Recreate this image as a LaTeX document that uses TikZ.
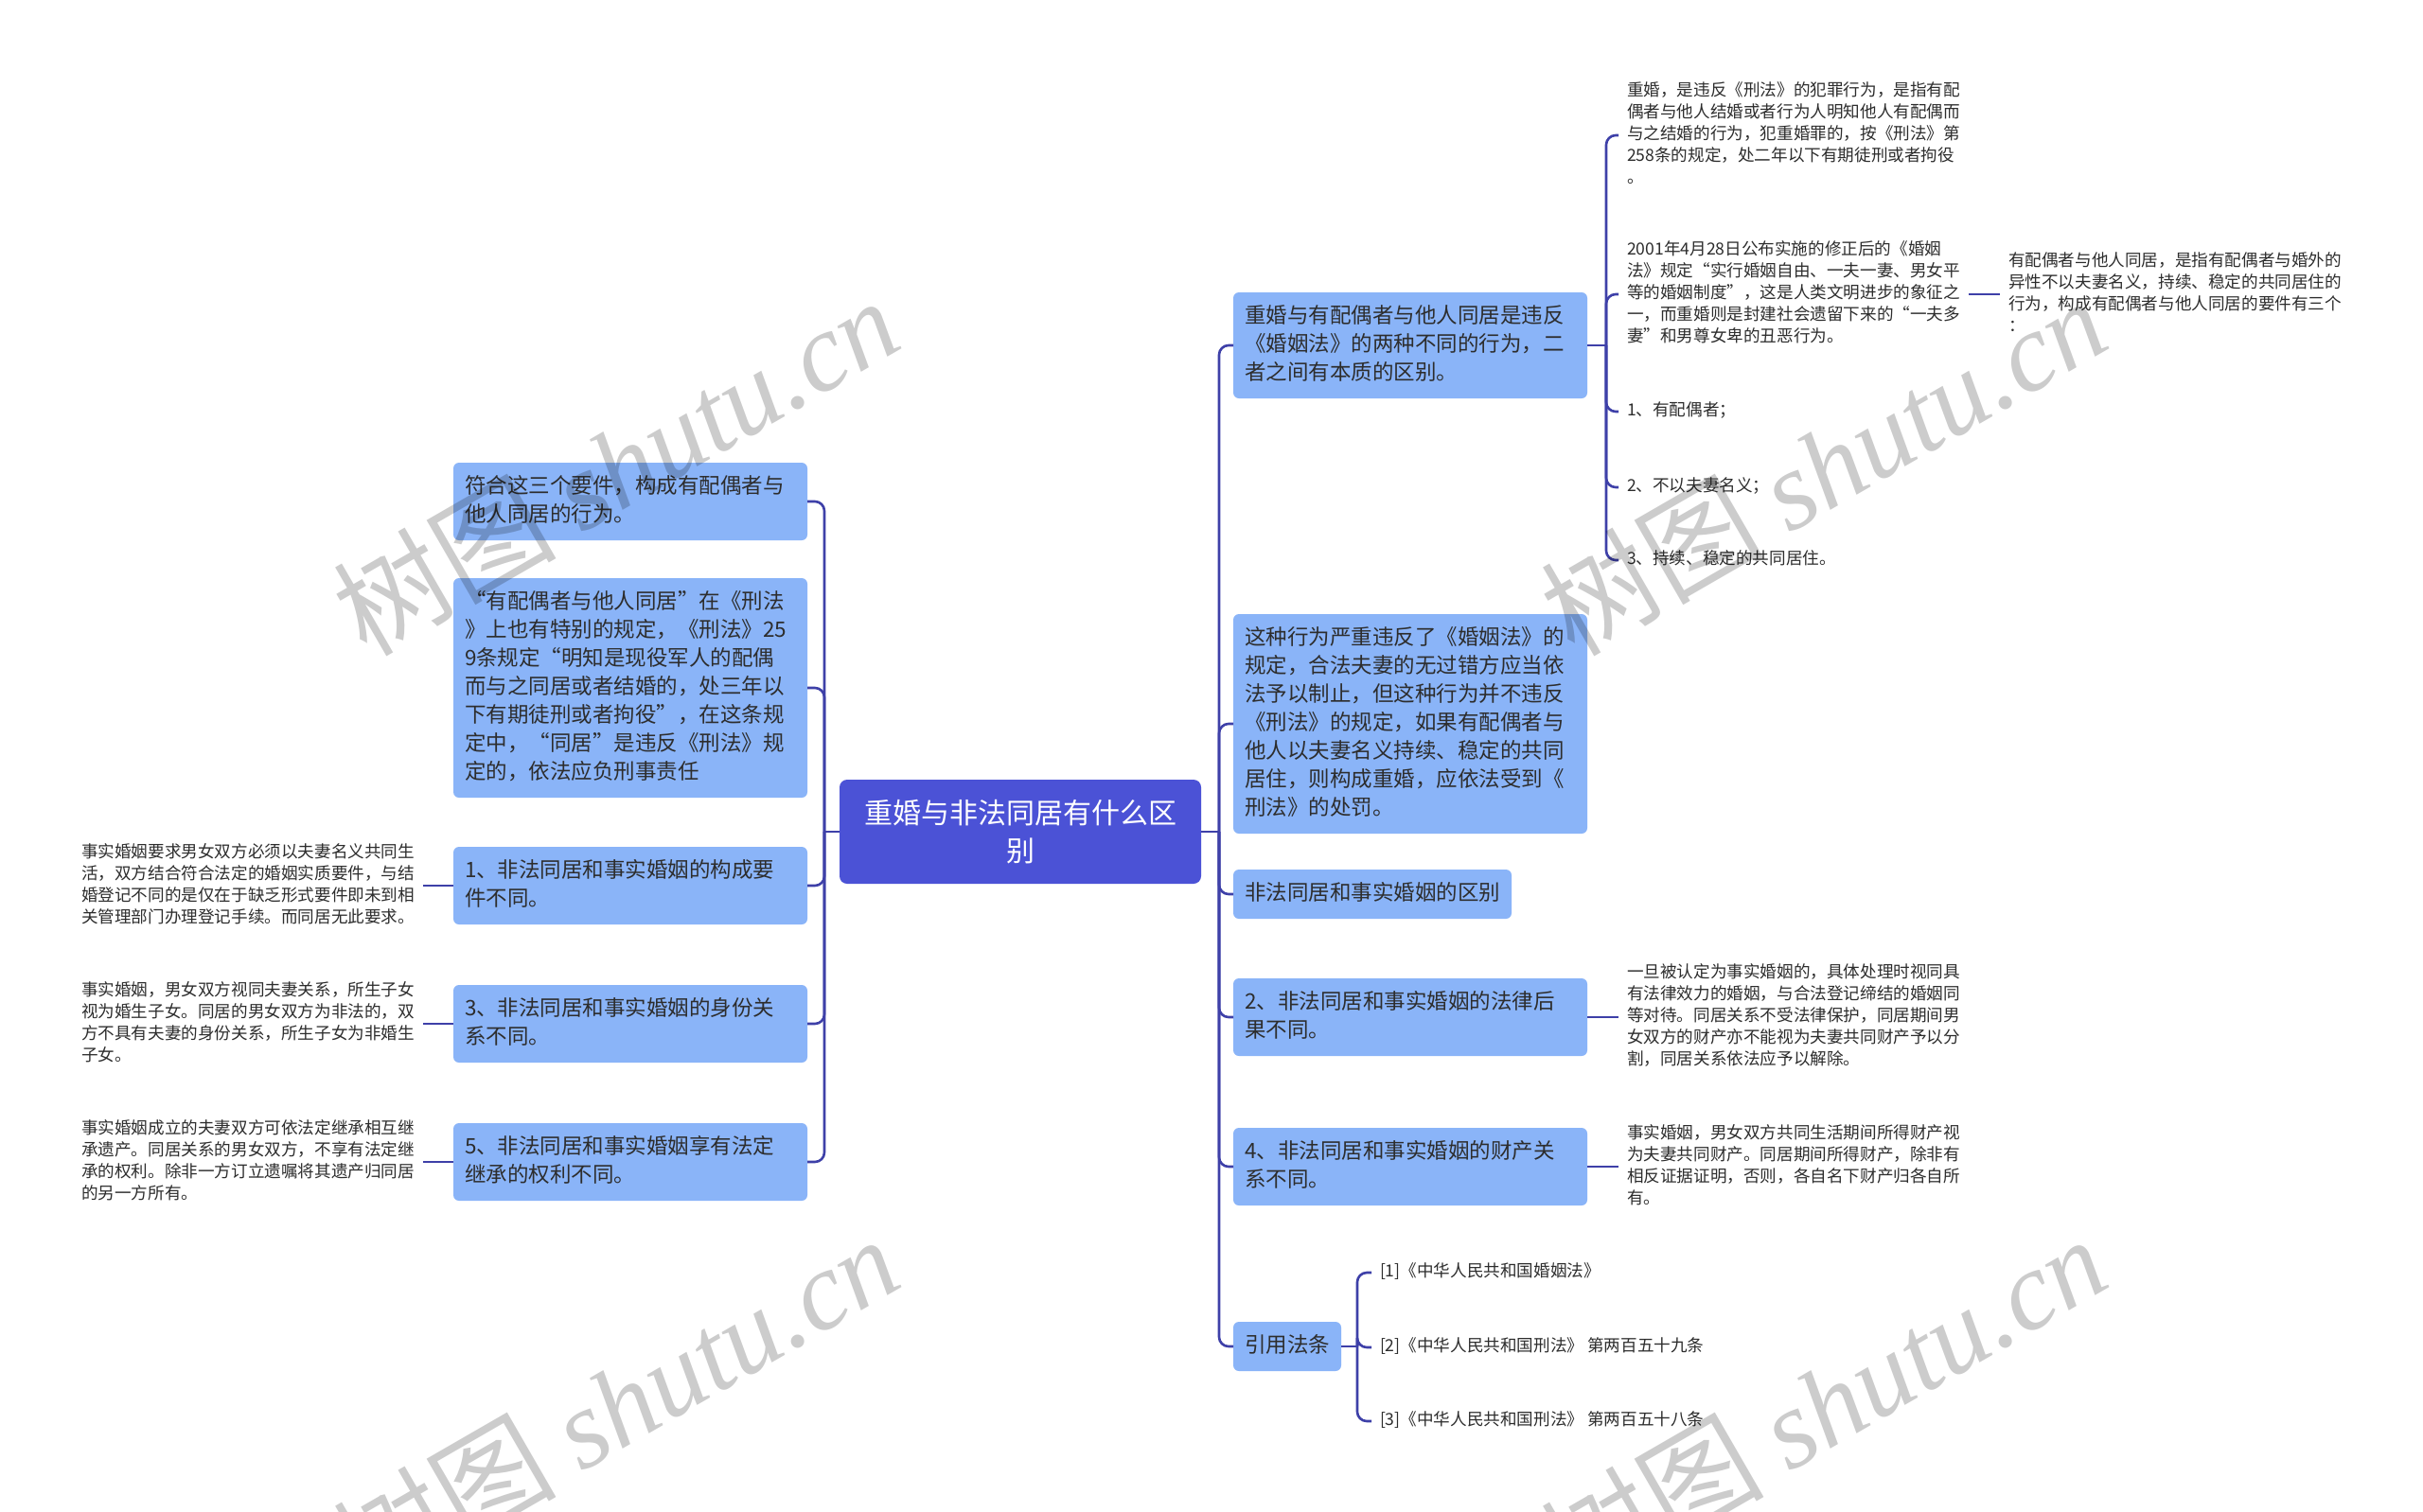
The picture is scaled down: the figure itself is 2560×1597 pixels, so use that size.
\documentclass[tikz,border=0pt]{standalone}
\usepackage{fontspec}
\setmainfont{Noto Sans CJK SC}
\newfontfamily\wmfont{Liberation Serif}
\usetikzlibrary{positioning}
\definecolor{rootblue}{RGB}{75,82,214}
\definecolor{boxblue}{RGB}{138,180,248}
\definecolor{linkblue}{RGB}{62,64,168}
\definecolor{textdark}{RGB}{45,45,45}

\begin{document}
\begin{tikzpicture}[x=0.5pt,y=-0.5pt,every node/.style={outer sep=0pt},
		root/.style={fill=rootblue,text=white,rounded corners=4pt,minimum width=191pt,
		minimum height=55pt,align=center,font=\fontsize{15}{20}\selectfont},
		topic/.style={fill=boxblue,text=textdark,rounded corners=3pt,inner xsep=6pt,
		inner ysep=5.5pt,align=left,font=\fontsize{11.25}{15}\selectfont,
		execute at begin node=\strut,execute at end node=\strut},
		wide/.style={text width=175pt},
		note/.style={text=textdark,inner xsep=4.5pt,inner ysep=1pt,align=left,
		font=\fontsize{8.8}{11.5}\selectfont,
		execute at begin node=\strut,execute at end node=\strut},
		para/.style={text width=176pt},
		link/.style={draw=linkblue,line width=1.3pt,rounded corners=5pt},
		wmark/.style={text=black,opacity=0.2,rotate=30,font=\fontsize{59}{64}\selectfont},
		]
		\fill[white] (0,0) rectangle (2560,1597);
		\useasboundingbox (0,0) rectangle (2560,1597);

		\node[root] (root) at (1078,879) {重婚与非法同居有什么区\\别};

		\node[topic,wide,anchor=west] (n1) at (1303,365) {重婚与有配偶者与他人同居是违反\\《婚姻法》的两种不同的行为，二\\者之间有本质的区别。};
		\node[topic,wide,anchor=west] (n2) at (1303,765) {这种行为严重违反了《婚姻法》的\\规定，合法夫妻的无过错方应当依\\法予以制止，但这种行为并不违反\\《刑法》的规定，如果有配偶者与\\他人以夫妻名义持续、稳定的共同\\居住，则构成重婚，应依法受到《\\刑法》的处罚。};
		\node[topic,anchor=west] (n3) at (1303,945) {非法同居和事实婚姻的区别};
		\node[topic,wide,anchor=west] (n4) at (1303,1075) {2、非法同居和事实婚姻的法律后\\果不同。};
		\node[topic,wide,anchor=west] (n5) at (1303,1233) {4、非法同居和事实婚姻的财产关\\系不同。};
		\node[topic,anchor=west] (n6) at (1303,1423) {引用法条};

		\node[topic,wide,anchor=east] (m1) at (853,530) {符合这三个要件，构成有配偶者与\\他人同居的行为。};
		\node[topic,wide,anchor=east] (m2) at (853,727) {“有配偶者与他人同居”在《刑法\\》上也有特别的规定，《刑法》25\\9条规定“明知是现役军人的配偶\\而与之同居或者结婚的，处三年以\\下有期徒刑或者拘役”，在这条规\\定中，“同居”是违反《刑法》规\\定的，依法应负刑事责任};
		\node[topic,wide,anchor=east] (m3) at (853,936) {1、非法同居和事实婚姻的构成要\\件不同。};
		\node[topic,wide,anchor=east] (m4) at (853,1082) {3、非法同居和事实婚姻的身份关\\系不同。};
		\node[topic,wide,anchor=east] (m5) at (853,1228) {5、非法同居和事实婚姻享有法定\\继承的权利不同。};

		\node[note,para,left=16pt of m3] (m3n) {事实婚姻要求男女双方必须以夫妻名义共同生\\活，双方结合符合法定的婚姻实质要件，与结\\婚登记不同的是仅在于缺乏形式要件即未到相\\关管理部门办理登记手续。而同居无此要求。};
		\node[note,para,left=16pt of m4] (m4n) {事实婚姻，男女双方视同夫妻关系，所生子女\\视为婚生子女。同居的男女双方为非法的，双\\方不具有夫妻的身份关系，所生子女为非婚生\\子女。};
		\node[note,para,left=16pt of m5] (m5n) {事实婚姻成立的夫妻双方可依法定继承相互继\\承遗产。同居关系的男女双方，不享有法定继\\承的权利。除非一方订立遗嘱将其遗产归同居\\的另一方所有。};

		\node[note,para,anchor=west] (l1a) at (1710,143) {重婚，是违反《刑法》的犯罪行为，是指有配\\偶者与他人结婚或者行为人明知他人有配偶而\\与之结婚的行为，犯重婚罪的，按《刑法》第\\258条的规定，处二年以下有期徒刑或者拘役\\。};
		\node[note,para,anchor=west] (l1b) at (1710,311) {2001年4月28日公布实施的修正后的《婚姻\\法》规定“实行婚姻自由、一夫一妻、男女平\\等的婚姻制度”，这是人类文明进步的象征之\\一，而重婚则是封建社会遗留下来的“一夫多\\妻”和男尊女卑的丑恶行为。};
		\node[note,para,right=16.5pt of l1b] (l1b1) {有配偶者与他人同居，是指有配偶者与婚外的\\异性不以夫妻名义，持续、稳定的共同居住的\\行为，构成有配偶者与他人同居的要件有三个\\：};
		\node[note,anchor=west] (l1c) at (1710,435) {1、有配偶者；};
		\node[note,anchor=west] (l1d) at (1710,515) {2、不以夫妻名义；};
		\node[note,anchor=west] (l1e) at (1710,592) {3、持续、稳定的共同居住。};

		\node[note,para,right=16.5pt of n4] (n4n) {一旦被认定为事实婚姻的，具体处理时视同具\\有法律效力的婚姻，与合法登记缔结的婚姻同\\等对待。同居关系不受法律保护，同居期间男\\女双方的财产亦不能视为夫妻共同财产予以分\\割，同居关系依法应予以解除。};
		\node[note,para,right=16.5pt of n5] (n5n) {事实婚姻，男女双方共同生活期间所得财产视\\为夫妻共同财产。同居期间所得财产，除非有\\相反证据证明，否则，各自名下财产归各自所\\有。};

		\node[note,anchor=west] (c1) at (1449,1345) {[1]《中华人民共和国婚姻法》};
		\node[note,anchor=west] (c2) at (1449,1424) {[2]《中华人民共和国刑法》 第两百五十九条};
		\node[note,anchor=west] (c3) at (1449,1502) {[3]《中华人民共和国刑法》 第两百五十八条};

		\draw[link] (root.east) -- ++(19,0) coordinate (rj);
		\draw[link] (rj) |- (n1.west);
		\draw[link] (rj) |- (n2.west);
		\draw[link] (rj) |- (n3.west);
		\draw[link] (rj) |- (n4.west);
		\draw[link] (rj) |- (n5.west);
		\draw[link] (rj) |- (n6.west);

		\draw[link] (root.west) -- ++(-16,0) coordinate (lj);
		\draw[link] (lj) |- (m1.east);
		\draw[link] (lj) |- (m2.east);
		\draw[link] (lj) |- (m3.east);
		\draw[link] (lj) |- (m4.east);
		\draw[link] (lj) |- (m5.east);

		\draw[link] (m3.west) -- (m3n.east);
		\draw[link] (m4.west) -- (m4n.east);
		\draw[link] (m5.west) -- (m5n.east);

		\draw[link] (n1.east) -- ++(20,0) coordinate (n1j);
		\draw[link] (n1j) |- (l1a.west);
		\draw[link] (n1j) |- (l1b.west);
		\draw[link] (n1j) |- (l1c.west);
		\draw[link] (n1j) |- (l1d.west);
		\draw[link] (n1j) |- (l1e.west);
		\draw[link] (l1b.east) -- (l1b1.west);

		\draw[link] (n4.east) -- (n4n.west);
		\draw[link] (n5.east) -- (n5n.west);

		\draw[link] (n6.east) -- ++(17,0) coordinate (n6j);
		\draw[link] (n6j) |- (c1.west);
		\draw[link] (n6j) |- (c2.west);
		\draw[link] (n6j) |- (c3.west);

		\node[wmark] (wm1) at (650,492) {树图 {\wmfont\itshape shutu.cn}};
		\node[wmark] (wm2) at (1926,492) {树图 {\wmfont\itshape shutu.cn}};
		\node[wmark] (wm3) at (650,1484) {树图 {\wmfont\itshape shutu.cn}};
		\node[wmark] (wm4) at (1926,1484) {树图 {\wmfont\itshape shutu.cn}};
\end{tikzpicture}
\end{document}
